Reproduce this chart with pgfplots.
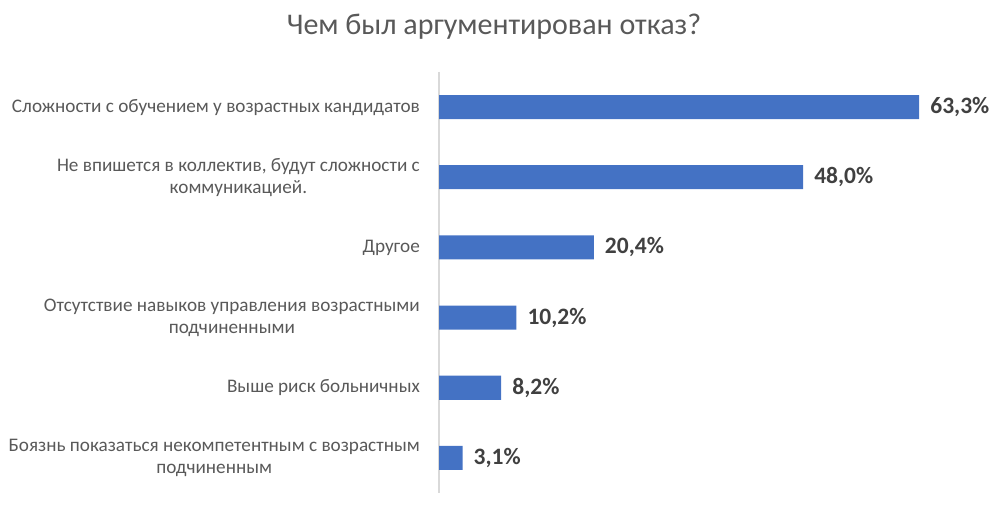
\documentclass[border=0pt]{standalone}
\usepackage{fontspec}
\setmainfont{Carlito}
\usepackage{pgfplots}
\pgfplotsset{compat=1.18}
\definecolor{barblue}{HTML}{4472C4}
\definecolor{txtgray}{HTML}{595959}
\definecolor{valgray}{HTML}{404040}
\definecolor{axgray}{HTML}{D9D9D9}
\begin{document}
\begin{tikzpicture}[x=1bp,y=1bp]
\path[use as bounding box] (0,0) rectangle (992,510);
\node[text=txtgray, font=\fontsize{30bp}{34bp}\selectfont] at (494,483) {Чем был аргументирован отказ?};
\begin{axis}[
  at={(439bp,17bp)}, anchor=south west,
  scale only axis, width=531bp, height=421bp,
  xbar, bar width=24bp,
  xmin=0, xmax=70, ymin=-0.5, ymax=5.5,
  y dir=reverse,
  axis x line=none,
  axis y line=left,
  y axis line style={draw=axgray, line width=1.5bp, -},
  ytick={0,1,2,3,4,5},
  major tick length=0pt,
  yticklabels={
    {Сложности с обучением у возрастных кандидатов},
    {Не впишется в коллектив, будут сложности с\\коммуникацией.},
    {Другое},
    {Отсутствие навыков управления возрастными\\подчиненными},
    {Выше риск больничных},
    {Боязнь показаться некомпетентным с возрастным\\подчиненным}},
  yticklabel style={align=center, text=txtgray, inner sep=0pt, xshift=-19bp,
    font=\fontsize{19.2bp}{22bp}\selectfont},
  nodes near coords={\pgfmathprintnumber[fixed, fixed zerofill, precision=1, use comma, assume math mode=true]{\pgfplotspointmeta}\%},
  nodes near coords style={anchor=west, inner sep=0pt, xshift=11bp, text=valgray,
    font=\fontsize{23.5bp}{27bp}\selectfont\bfseries},
  clip=false,
]
\addplot[fill=barblue, draw=none] coordinates {
  (63.3,0) (48.0,1) (20.4,2) (10.2,3) (8.2,4) (3.1,5)
};
\end{axis}
\end{tikzpicture}
\end{document}
